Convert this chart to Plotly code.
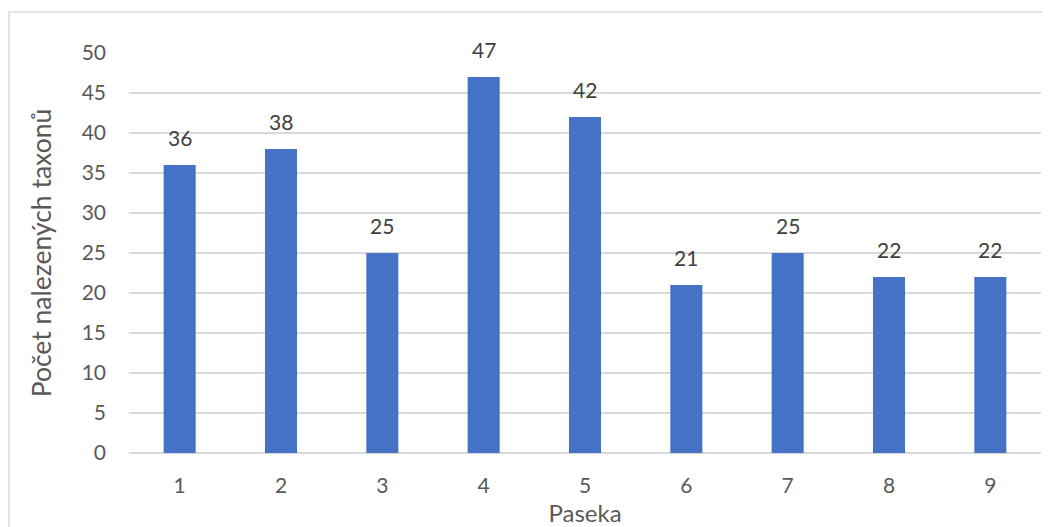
import plotly.graph_objects as go

paseka = ["1", "2", "3", "4", "5", "6", "7", "8", "9"]
pocet = [36, 38, 25, 47, 42, 21, 25, 22, 22]
y_ticks = [0, 5, 10, 15, 20, 25, 30, 35, 40, 45, 50]

font_family = "Lato, Open Sans, sans-serif"
text_color = "#595959"

# page offset caused by default body margin
OFF = 8
W, H = 1050 - OFF, 527 - OFF
L, T = 129 - OFF, 53 - OFF
R = W - (1041 - OFF)
B = H - (453 - OFF)
pw, ph = W - L - R, H - T - B

fig = go.Figure(go.Bar(
    x=paseka, y=pocet,
    marker=dict(color="#4472C4", line=dict(width=0)),
))

for i, yv in enumerate(pocet):
    fig.add_annotation(
        x=i, y=yv, text=str(yv), showarrow=False,
        yanchor="bottom", yshift=13,
        font=dict(size=21, color="#404040", family=font_family),
    )

fig.update_layout(
    width=W, height=H,
    margin=dict(l=L, r=R, t=T, b=B),
    paper_bgcolor="white", plot_bgcolor="white",
    bargap=0.684,
    showlegend=False,
    font=dict(family=font_family, color=text_color, size=21),
    xaxis=dict(
        type="category", automargin=False,
        title=dict(text="Paseka", font=dict(size=24, color=text_color), standoff=11),
        tickfont=dict(size=21, color=text_color),
        ticklabelstandoff=18,
        showgrid=False, showline=False, ticks="",
    ),
    yaxis=dict(
        automargin=False,
        title=dict(text="Počet nalezených taxonů", font=dict(size=26.5, color=text_color), standoff=22),
        range=[0, 50], tickvals=y_ticks,
        tickfont=dict(size=21, color=text_color),
        ticklabelstandoff=22,
        showgrid=True, gridcolor="#D9D9D9", gridwidth=1.5,
        zeroline=True, zerolinecolor="#D9D9D9", zerolinewidth=1.5,
        showline=False, ticks="",
    ),
    shapes=[dict(
        type="rect", xref="paper", yref="paper",
        x0=(9 - OFF - L) / pw, x1=(W + 10 - L) / pw,
        y0=-(H + 10 - (T + ph)) / ph, y1=(T + ph - (12 - OFF)) / ph,
        line=dict(color="#D9D9D9", width=1.5), fillcolor="rgba(0,0,0,0)",
        layer="below",
    )],
)

fig.write_html("out.html")
